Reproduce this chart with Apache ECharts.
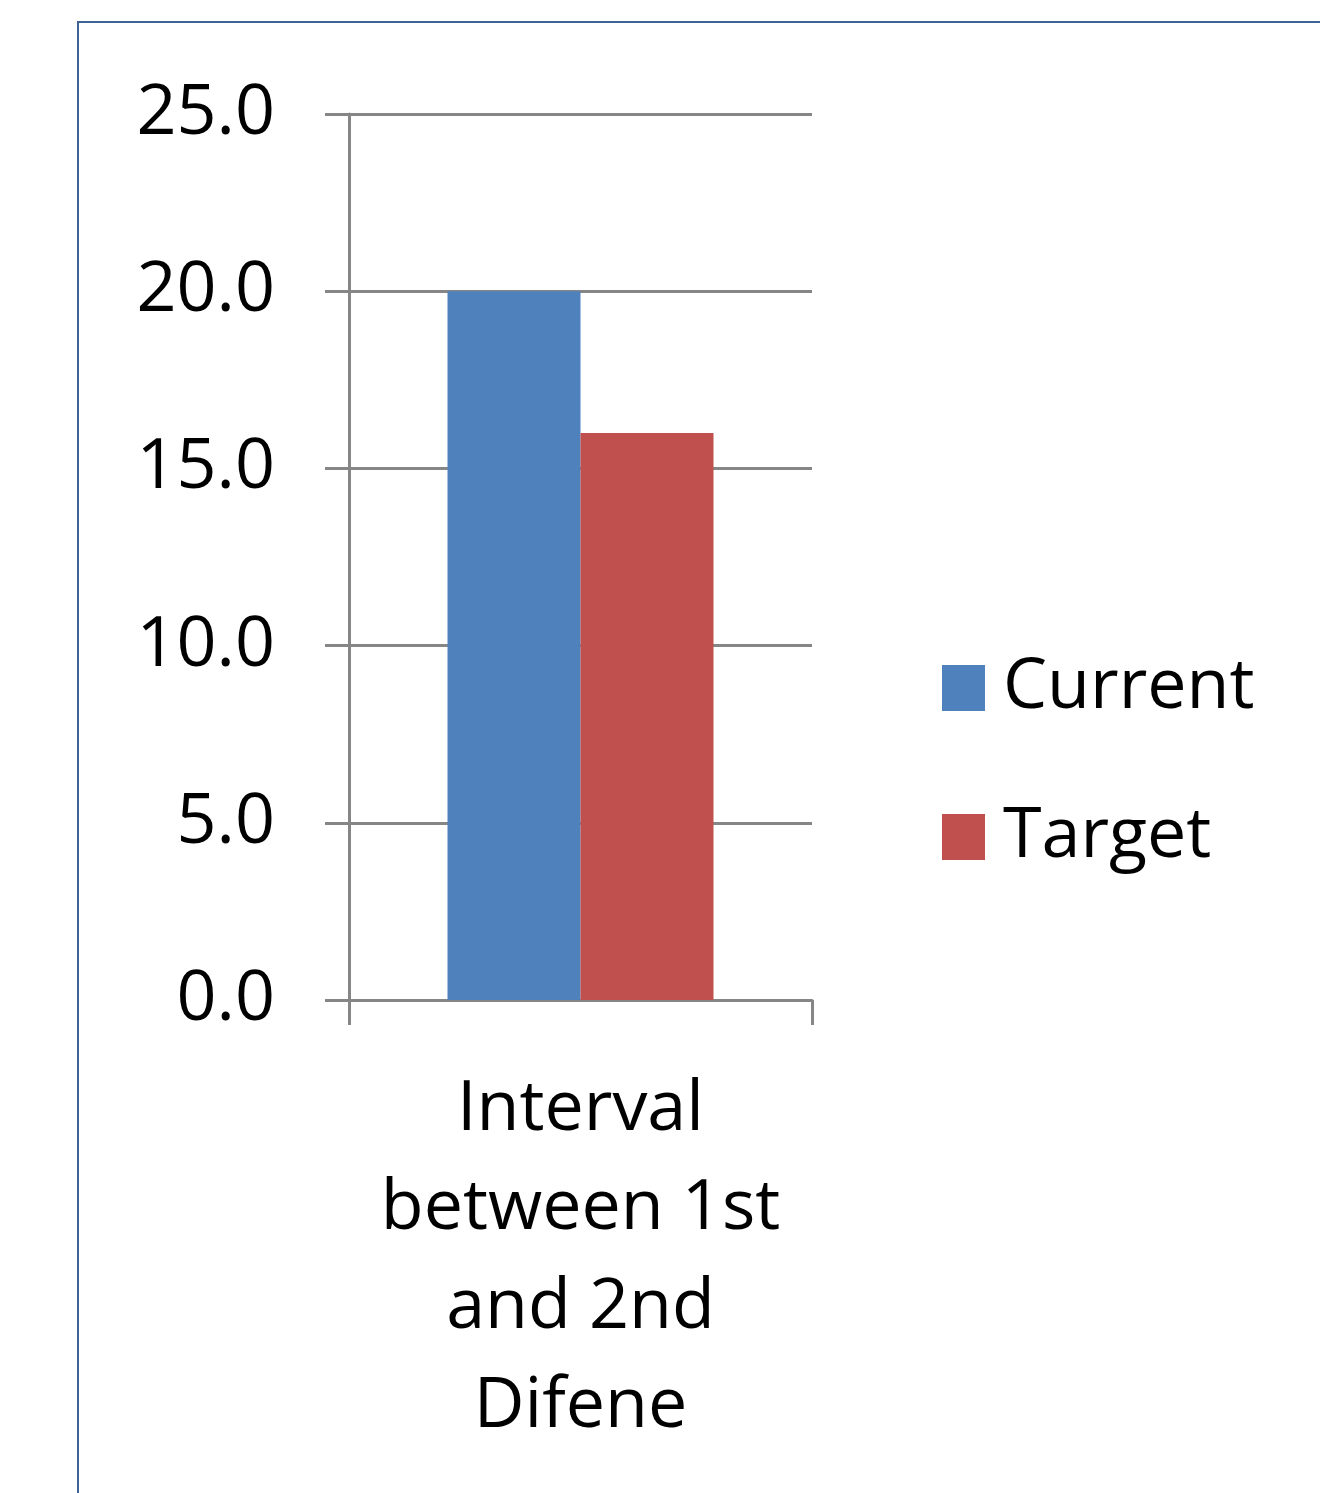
<!DOCTYPE html>
<html>
<head>
<meta charset="utf-8">
<script src="https://cdn.jsdelivr.net/npm/echarts@6/dist/echarts.min.js"></script>
<style>html,body{margin:0;padding:0;background:#fff}#c{width:1320px;height:1493px}</style>
</head>
<body>
<div id="c"></div>
<script>
const categories = ['Interval\nbetween 1st\nand 2nd\nDifene'];
const seriesNames = ['Current', 'Target'];
const currentValues = [20.0];
const targetValues = [16.0];
const yTicks = { min: 0, max: 25, interval: 5 };

const FONT = '"Open Sans", "Noto Sans", sans-serif';
const chart = echarts.init(document.getElementById('c'), null, { renderer: 'canvas' });
const gray = '#868686';
chart.setOption({
  animation: false,
  backgroundColor: '#ffffff',
  graphic: [{
    type: 'rect', z: 100, silent: true,
    shape: { x: 78, y: 22, width: 1400, height: 1600 },
    style: { fill: 'none', stroke: '#3E6496', lineWidth: 2 }
  }],
  grid: { left: 349, right: 508, top: 114, bottom: 493, containLabel: false },
  legend: {
    orient: 'vertical', left: 942, top: 653, padding: 0,
    itemWidth: 43, itemHeight: 46, itemGap: 79, icon: 'rect',
    textStyle: { fontFamily: FONT, fontSize: 70, color: '#000', padding: [0, 0, 0, 13] },
    data: seriesNames
  },
  xAxis: {
    type: 'category', data: categories,
    boundaryGap: true,
    axisLine: { show: true, lineStyle: { color: gray, width: 3 } },
    axisTick: { show: true, length: 25, lineStyle: { color: gray, width: 3 } },
    axisLabel: { fontFamily: FONT, fontSize: 70, color: '#000', lineHeight: 99, margin: 61, interval: 0 }
  },
  yAxis: {
    type: 'value', min: yTicks.min, max: yTicks.max, interval: yTicks.interval,
    axisLine: { show: true, lineStyle: { color: gray, width: 3 } },
    axisTick: { show: true, length: 24, lineStyle: { color: gray, width: 3 } },
    splitLine: { show: true, lineStyle: { color: gray, width: 3 } },
    axisLabel: { fontFamily: FONT, fontSize: 70, color: '#000', margin: 74,
      formatter: v => v.toFixed(1) }
  },
  series: [
    { name: seriesNames[0], type: 'bar', data: currentValues, barWidth: 133, barGap: '0%',
      itemStyle: { color: '#4F81BD' } },
    { name: seriesNames[1], type: 'bar', data: targetValues, barWidth: 133, barGap: '0%',
      itemStyle: { color: '#C0504D' } }
  ]
});
</script>
</body>
</html>
